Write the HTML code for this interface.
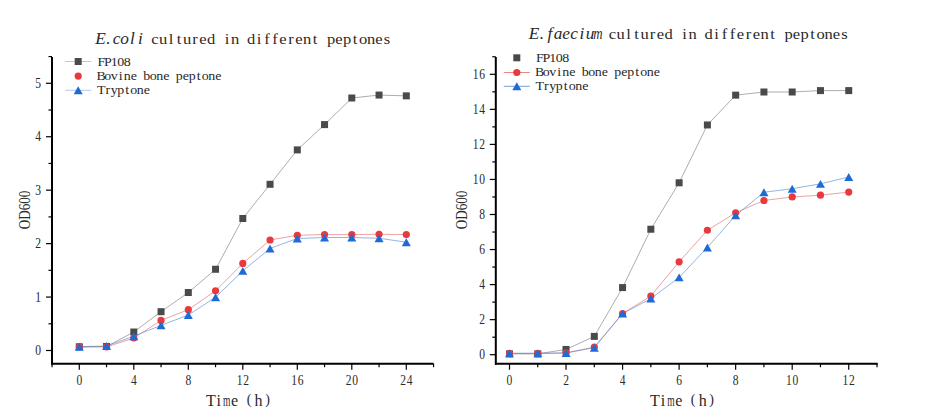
<!DOCTYPE html><html><head><meta charset="utf-8"><style>html,body{margin:0;padding:0;background:#fff;}svg{display:block;}</style></head><body>
<svg width="932" height="420" viewBox="0 0 932 420" font-family='"Liberation Serif", serif'>
<rect width="932" height="420" fill="#fff"/>
<line x1="51.3" y1="363.7" x2="433.6" y2="363.7" stroke="#000" stroke-width="2"/>
<line x1="52.0" y1="57.0" x2="52.0" y2="364.7" stroke="#000" stroke-width="2"/>
<line x1="79.30" y1="363.7" x2="79.30" y2="369.7" stroke="#000" stroke-width="1.2"/>
<text transform="translate(79.30,385.00) scale(0.850,1)" font-size="13.6" text-anchor="middle" fill="#2a2a2a">0</text>
<line x1="133.80" y1="363.7" x2="133.80" y2="369.7" stroke="#000" stroke-width="1.2"/>
<text transform="translate(133.80,385.00) scale(0.850,1)" font-size="13.6" text-anchor="middle" fill="#2a2a2a">4</text>
<line x1="188.30" y1="363.7" x2="188.30" y2="369.7" stroke="#000" stroke-width="1.2"/>
<text transform="translate(188.30,385.00) scale(0.850,1)" font-size="13.6" text-anchor="middle" fill="#2a2a2a">8</text>
<line x1="242.80" y1="363.7" x2="242.80" y2="369.7" stroke="#000" stroke-width="1.2"/>
<text transform="translate(239.55,385.00) scale(0.850,1)" font-size="13.6" text-anchor="middle" fill="#2a2a2a">1</text><text transform="translate(246.05,385.00) scale(0.850,1)" font-size="13.6" text-anchor="middle" fill="#2a2a2a">2</text>
<line x1="297.30" y1="363.7" x2="297.30" y2="369.7" stroke="#000" stroke-width="1.2"/>
<text transform="translate(294.05,385.00) scale(0.850,1)" font-size="13.6" text-anchor="middle" fill="#2a2a2a">1</text><text transform="translate(300.55,385.00) scale(0.850,1)" font-size="13.6" text-anchor="middle" fill="#2a2a2a">6</text>
<line x1="351.80" y1="363.7" x2="351.80" y2="369.7" stroke="#000" stroke-width="1.2"/>
<text transform="translate(348.55,385.00) scale(0.850,1)" font-size="13.6" text-anchor="middle" fill="#2a2a2a">2</text><text transform="translate(355.05,385.00) scale(0.850,1)" font-size="13.6" text-anchor="middle" fill="#2a2a2a">0</text>
<line x1="406.30" y1="363.7" x2="406.30" y2="369.7" stroke="#000" stroke-width="1.2"/>
<text transform="translate(403.05,385.00) scale(0.850,1)" font-size="13.6" text-anchor="middle" fill="#2a2a2a">2</text><text transform="translate(409.55,385.00) scale(0.850,1)" font-size="13.6" text-anchor="middle" fill="#2a2a2a">4</text>
<line x1="52.05" y1="363.7" x2="52.05" y2="367.2" stroke="#000" stroke-width="1.2"/>
<line x1="106.55" y1="363.7" x2="106.55" y2="367.2" stroke="#000" stroke-width="1.2"/>
<line x1="161.05" y1="363.7" x2="161.05" y2="367.2" stroke="#000" stroke-width="1.2"/>
<line x1="215.55" y1="363.7" x2="215.55" y2="367.2" stroke="#000" stroke-width="1.2"/>
<line x1="270.05" y1="363.7" x2="270.05" y2="367.2" stroke="#000" stroke-width="1.2"/>
<line x1="324.55" y1="363.7" x2="324.55" y2="367.2" stroke="#000" stroke-width="1.2"/>
<line x1="379.05" y1="363.7" x2="379.05" y2="367.2" stroke="#000" stroke-width="1.2"/>
<line x1="433.55" y1="363.7" x2="433.55" y2="367.2" stroke="#000" stroke-width="1.2"/>
<line x1="46.0" y1="350.50" x2="52.0" y2="350.50" stroke="#000" stroke-width="1.2"/>
<text transform="translate(38.25,355.00) scale(0.850,1)" font-size="13.6" text-anchor="middle" fill="#2a2a2a">0</text>
<line x1="46.0" y1="297.06" x2="52.0" y2="297.06" stroke="#000" stroke-width="1.2"/>
<text transform="translate(38.25,301.56) scale(0.850,1)" font-size="13.6" text-anchor="middle" fill="#2a2a2a">1</text>
<line x1="46.0" y1="243.62" x2="52.0" y2="243.62" stroke="#000" stroke-width="1.2"/>
<text transform="translate(38.25,248.12) scale(0.850,1)" font-size="13.6" text-anchor="middle" fill="#2a2a2a">2</text>
<line x1="46.0" y1="190.18" x2="52.0" y2="190.18" stroke="#000" stroke-width="1.2"/>
<text transform="translate(38.25,194.68) scale(0.850,1)" font-size="13.6" text-anchor="middle" fill="#2a2a2a">3</text>
<line x1="46.0" y1="136.74" x2="52.0" y2="136.74" stroke="#000" stroke-width="1.2"/>
<text transform="translate(38.25,141.24) scale(0.850,1)" font-size="13.6" text-anchor="middle" fill="#2a2a2a">4</text>
<line x1="46.0" y1="83.30" x2="52.0" y2="83.30" stroke="#000" stroke-width="1.2"/>
<text transform="translate(38.25,87.80) scale(0.850,1)" font-size="13.6" text-anchor="middle" fill="#2a2a2a">5</text>
<line x1="48.5" y1="323.78" x2="52.0" y2="323.78" stroke="#000" stroke-width="1.2"/>
<line x1="48.5" y1="270.34" x2="52.0" y2="270.34" stroke="#000" stroke-width="1.2"/>
<line x1="48.5" y1="216.90" x2="52.0" y2="216.90" stroke="#000" stroke-width="1.2"/>
<line x1="48.5" y1="163.46" x2="52.0" y2="163.46" stroke="#000" stroke-width="1.2"/>
<line x1="48.5" y1="110.02" x2="52.0" y2="110.02" stroke="#000" stroke-width="1.2"/>
<line x1="48.5" y1="56.58" x2="52.0" y2="56.58" stroke="#000" stroke-width="1.2"/>
<polyline points="79.30,346.76 106.55,346.49 133.80,332.01 161.05,311.70 188.30,292.52 215.55,269.27 242.80,218.50 270.05,184.30 297.30,149.89 324.55,124.61 351.80,98.00 379.05,95.06 406.30,95.86" fill="none" stroke="#7a7a7a" stroke-width="0.62"/>
<polyline points="79.30,346.97 106.55,346.97 133.80,338.00 161.05,320.41 188.30,309.67 215.55,290.81 242.80,263.39 270.05,239.99 297.30,235.28 324.55,234.59 351.80,234.59 379.05,234.27 406.30,234.59" fill="none" stroke="#e06a6c" stroke-width="0.62"/>
<polyline points="79.30,346.71 106.55,346.01 133.80,336.18 161.05,325.38 188.30,315.02 215.55,297.27 242.80,270.87 270.05,248.43 297.30,238.49 324.55,237.53 351.80,237.53 379.05,238.28 406.30,242.18" fill="none" stroke="#4f88cf" stroke-width="0.62"/>
<rect x="75.80" y="343.26" width="7" height="7" fill="#4a4a4a"/>
<rect x="103.05" y="342.99" width="7" height="7" fill="#4a4a4a"/>
<rect x="130.30" y="328.51" width="7" height="7" fill="#4a4a4a"/>
<rect x="157.55" y="308.20" width="7" height="7" fill="#4a4a4a"/>
<rect x="184.80" y="289.02" width="7" height="7" fill="#4a4a4a"/>
<rect x="212.05" y="265.77" width="7" height="7" fill="#4a4a4a"/>
<rect x="239.30" y="215.00" width="7" height="7" fill="#4a4a4a"/>
<rect x="266.55" y="180.80" width="7" height="7" fill="#4a4a4a"/>
<rect x="293.80" y="146.39" width="7" height="7" fill="#4a4a4a"/>
<rect x="321.05" y="121.11" width="7" height="7" fill="#4a4a4a"/>
<rect x="348.30" y="94.50" width="7" height="7" fill="#4a4a4a"/>
<rect x="375.55" y="91.56" width="7" height="7" fill="#4a4a4a"/>
<rect x="402.80" y="92.36" width="7" height="7" fill="#4a4a4a"/>
<circle cx="79.30" cy="346.97" r="3.6" fill="#e8393e"/>
<circle cx="106.55" cy="346.97" r="3.6" fill="#e8393e"/>
<circle cx="133.80" cy="338.00" r="3.6" fill="#e8393e"/>
<circle cx="161.05" cy="320.41" r="3.6" fill="#e8393e"/>
<circle cx="188.30" cy="309.67" r="3.6" fill="#e8393e"/>
<circle cx="215.55" cy="290.81" r="3.6" fill="#e8393e"/>
<circle cx="242.80" cy="263.39" r="3.6" fill="#e8393e"/>
<circle cx="270.05" cy="239.99" r="3.6" fill="#e8393e"/>
<circle cx="297.30" cy="235.28" r="3.6" fill="#e8393e"/>
<circle cx="324.55" cy="234.59" r="3.6" fill="#e8393e"/>
<circle cx="351.80" cy="234.59" r="3.6" fill="#e8393e"/>
<circle cx="379.05" cy="234.27" r="3.6" fill="#e8393e"/>
<circle cx="406.30" cy="234.59" r="3.6" fill="#e8393e"/>
<path d="M79.30 342.76 L83.80 350.66 L74.80 350.66Z" fill="#1f6bd6"/>
<path d="M106.55 342.06 L111.05 349.96 L102.05 349.96Z" fill="#1f6bd6"/>
<path d="M133.80 332.23 L138.30 340.13 L129.30 340.13Z" fill="#1f6bd6"/>
<path d="M161.05 321.43 L165.55 329.33 L156.55 329.33Z" fill="#1f6bd6"/>
<path d="M188.30 311.07 L192.80 318.97 L183.80 318.97Z" fill="#1f6bd6"/>
<path d="M215.55 293.32 L220.05 301.22 L211.05 301.22Z" fill="#1f6bd6"/>
<path d="M242.80 266.92 L247.30 274.82 L238.30 274.82Z" fill="#1f6bd6"/>
<path d="M270.05 244.48 L274.55 252.38 L265.55 252.38Z" fill="#1f6bd6"/>
<path d="M297.30 234.54 L301.80 242.44 L292.80 242.44Z" fill="#1f6bd6"/>
<path d="M324.55 233.58 L329.05 241.48 L320.05 241.48Z" fill="#1f6bd6"/>
<path d="M351.80 233.58 L356.30 241.48 L347.30 241.48Z" fill="#1f6bd6"/>
<path d="M379.05 234.33 L383.55 242.23 L374.55 242.23Z" fill="#1f6bd6"/>
<path d="M406.30 238.23 L410.80 246.13 L401.80 246.13Z" fill="#1f6bd6"/>
<text transform="translate(100.50,43.70) scale(1.080,1)" font-size="16" font-style="italic" text-anchor="middle" fill="#2a2a2a">E</text><text transform="translate(108.50,43.70) scale(1.080,1)" font-size="16" font-style="italic" text-anchor="middle" fill="#2a2a2a">.</text><text transform="translate(116.50,43.70) scale(1.080,1)" font-size="16" font-style="italic" text-anchor="middle" fill="#2a2a2a">c</text><text transform="translate(124.50,43.70) scale(1.080,1)" font-size="16" font-style="italic" text-anchor="middle" fill="#2a2a2a">o</text><text transform="translate(132.50,43.70) scale(1.080,1)" font-size="16" font-style="italic" text-anchor="middle" fill="#2a2a2a">l</text><text transform="translate(140.50,43.70) scale(1.080,1)" font-size="16" font-style="italic" text-anchor="middle" fill="#2a2a2a">i</text>
<text transform="translate(155.00,43.70) scale(1.080,1)" font-size="15.3" text-anchor="middle" fill="#2a2a2a">c</text><text transform="translate(163.00,43.70) scale(1.080,1)" font-size="15.3" text-anchor="middle" fill="#2a2a2a">u</text><text transform="translate(171.00,43.70) scale(1.080,1)" font-size="15.3" text-anchor="middle" fill="#2a2a2a">l</text><text transform="translate(179.00,43.70) scale(1.080,1)" font-size="15.3" text-anchor="middle" fill="#2a2a2a">t</text><text transform="translate(187.00,43.70) scale(1.080,1)" font-size="15.3" text-anchor="middle" fill="#2a2a2a">u</text><text transform="translate(195.00,43.70) scale(1.080,1)" font-size="15.3" text-anchor="middle" fill="#2a2a2a">r</text><text transform="translate(203.00,43.70) scale(1.080,1)" font-size="15.3" text-anchor="middle" fill="#2a2a2a">e</text><text transform="translate(211.00,43.70) scale(1.080,1)" font-size="15.3" text-anchor="middle" fill="#2a2a2a">d</text><text transform="translate(227.00,43.70) scale(1.080,1)" font-size="15.3" text-anchor="middle" fill="#2a2a2a">i</text><text transform="translate(235.00,43.70) scale(1.080,1)" font-size="15.3" text-anchor="middle" fill="#2a2a2a">n</text><text transform="translate(251.00,43.70) scale(1.080,1)" font-size="15.3" text-anchor="middle" fill="#2a2a2a">d</text><text transform="translate(259.00,43.70) scale(1.080,1)" font-size="15.3" text-anchor="middle" fill="#2a2a2a">i</text><text transform="translate(267.00,43.70) scale(1.080,1)" font-size="15.3" text-anchor="middle" fill="#2a2a2a">f</text><text transform="translate(275.00,43.70) scale(1.080,1)" font-size="15.3" text-anchor="middle" fill="#2a2a2a">f</text><text transform="translate(283.00,43.70) scale(1.080,1)" font-size="15.3" text-anchor="middle" fill="#2a2a2a">e</text><text transform="translate(291.00,43.70) scale(1.080,1)" font-size="15.3" text-anchor="middle" fill="#2a2a2a">r</text><text transform="translate(299.00,43.70) scale(1.080,1)" font-size="15.3" text-anchor="middle" fill="#2a2a2a">e</text><text transform="translate(307.00,43.70) scale(1.080,1)" font-size="15.3" text-anchor="middle" fill="#2a2a2a">n</text><text transform="translate(315.00,43.70) scale(1.080,1)" font-size="15.3" text-anchor="middle" fill="#2a2a2a">t</text><text transform="translate(331.00,43.70) scale(1.080,1)" font-size="15.3" text-anchor="middle" fill="#2a2a2a">p</text><text transform="translate(339.00,43.70) scale(1.080,1)" font-size="15.3" text-anchor="middle" fill="#2a2a2a">e</text><text transform="translate(347.00,43.70) scale(1.080,1)" font-size="15.3" text-anchor="middle" fill="#2a2a2a">p</text><text transform="translate(355.00,43.70) scale(1.080,1)" font-size="15.3" text-anchor="middle" fill="#2a2a2a">t</text><text transform="translate(363.00,43.70) scale(1.080,1)" font-size="15.3" text-anchor="middle" fill="#2a2a2a">o</text><text transform="translate(371.00,43.70) scale(1.080,1)" font-size="15.3" text-anchor="middle" fill="#2a2a2a">n</text><text transform="translate(379.00,43.70) scale(1.080,1)" font-size="15.3" text-anchor="middle" fill="#2a2a2a">e</text><text transform="translate(387.00,43.70) scale(1.080,1)" font-size="15.3" text-anchor="middle" fill="#2a2a2a">s</text>
<line x1="65.2" y1="61.50" x2="91.2" y2="61.50" stroke="#b8b8b8" stroke-width="0.8"/>
<rect x="74.70" y="58.00" width="7" height="7" fill="#4a4a4a"/>
<text transform="translate(101.25,65.80) scale(1.050,1)" font-size="13.3" text-anchor="middle" fill="#2a2a2a">F</text><text transform="translate(107.75,65.80) scale(1.050,1)" font-size="13.3" text-anchor="middle" fill="#2a2a2a">P</text><text transform="translate(114.25,65.80) scale(1.050,1)" font-size="13.3" text-anchor="middle" fill="#2a2a2a">1</text><text transform="translate(120.75,65.80) scale(1.050,1)" font-size="13.3" text-anchor="middle" fill="#2a2a2a">0</text><text transform="translate(127.25,65.80) scale(1.050,1)" font-size="13.3" text-anchor="middle" fill="#2a2a2a">8</text>
<circle cx="78.20" cy="76.10" r="3.6" fill="#e8393e"/>
<text transform="translate(101.25,80.30) scale(1.050,1)" font-size="13.3" text-anchor="middle" fill="#2a2a2a">B</text><text transform="translate(107.75,80.30) scale(1.050,1)" font-size="13.3" text-anchor="middle" fill="#2a2a2a">o</text><text transform="translate(114.25,80.30) scale(1.050,1)" font-size="13.3" text-anchor="middle" fill="#2a2a2a">v</text><text transform="translate(120.75,80.30) scale(1.050,1)" font-size="13.3" text-anchor="middle" fill="#2a2a2a">i</text><text transform="translate(127.25,80.30) scale(1.050,1)" font-size="13.3" text-anchor="middle" fill="#2a2a2a">n</text><text transform="translate(133.75,80.30) scale(1.050,1)" font-size="13.3" text-anchor="middle" fill="#2a2a2a">e</text><text transform="translate(146.75,80.30) scale(1.050,1)" font-size="13.3" text-anchor="middle" fill="#2a2a2a">b</text><text transform="translate(153.25,80.30) scale(1.050,1)" font-size="13.3" text-anchor="middle" fill="#2a2a2a">o</text><text transform="translate(159.75,80.30) scale(1.050,1)" font-size="13.3" text-anchor="middle" fill="#2a2a2a">n</text><text transform="translate(166.25,80.30) scale(1.050,1)" font-size="13.3" text-anchor="middle" fill="#2a2a2a">e</text><text transform="translate(179.25,80.30) scale(1.050,1)" font-size="13.3" text-anchor="middle" fill="#2a2a2a">p</text><text transform="translate(185.75,80.30) scale(1.050,1)" font-size="13.3" text-anchor="middle" fill="#2a2a2a">e</text><text transform="translate(192.25,80.30) scale(1.050,1)" font-size="13.3" text-anchor="middle" fill="#2a2a2a">p</text><text transform="translate(198.75,80.30) scale(1.050,1)" font-size="13.3" text-anchor="middle" fill="#2a2a2a">t</text><text transform="translate(205.25,80.30) scale(1.050,1)" font-size="13.3" text-anchor="middle" fill="#2a2a2a">o</text><text transform="translate(211.75,80.30) scale(1.050,1)" font-size="13.3" text-anchor="middle" fill="#2a2a2a">n</text><text transform="translate(218.25,80.30) scale(1.050,1)" font-size="13.3" text-anchor="middle" fill="#2a2a2a">e</text>
<line x1="65.2" y1="90.30" x2="91.2" y2="90.30" stroke="#9dbde6" stroke-width="0.8"/>
<path d="M78.20 86.35 L82.70 94.25 L73.70 94.25Z" fill="#1f6bd6"/>
<text transform="translate(101.25,93.70) scale(1.050,1)" font-size="13.3" text-anchor="middle" fill="#2a2a2a">T</text><text transform="translate(107.75,93.70) scale(1.050,1)" font-size="13.3" text-anchor="middle" fill="#2a2a2a">r</text><text transform="translate(114.25,93.70) scale(1.050,1)" font-size="13.3" text-anchor="middle" fill="#2a2a2a">y</text><text transform="translate(120.75,93.70) scale(1.050,1)" font-size="13.3" text-anchor="middle" fill="#2a2a2a">p</text><text transform="translate(127.25,93.70) scale(1.050,1)" font-size="13.3" text-anchor="middle" fill="#2a2a2a">t</text><text transform="translate(133.75,93.70) scale(1.050,1)" font-size="13.3" text-anchor="middle" fill="#2a2a2a">o</text><text transform="translate(140.25,93.70) scale(1.050,1)" font-size="13.3" text-anchor="middle" fill="#2a2a2a">n</text><text transform="translate(146.75,93.70) scale(1.050,1)" font-size="13.3" text-anchor="middle" fill="#2a2a2a">e</text>
<g transform="translate(30.0,210.0) rotate(-90)"><text x="0" y="0" font-size="17" text-anchor="middle" textLength="38.6" lengthAdjust="spacingAndGlyphs" fill="#2a2a2a">OD600</text></g>
<text x="210.80" y="406.0" font-size="16" text-anchor="middle" fill="#2a2a2a">T</text>
<text x="218.80" y="406.0" font-size="16" text-anchor="middle" fill="#2a2a2a">i</text>
<text x="226.80" y="406.0" font-size="16" textLength="7.4" lengthAdjust="spacingAndGlyphs" text-anchor="middle" fill="#2a2a2a">m</text>
<text x="234.60" y="406.0" font-size="16" text-anchor="middle" fill="#2a2a2a">e</text>
<text x="249.00" y="404.2" font-size="14" text-anchor="middle" fill="#2a2a2a">(</text>
<text x="258.60" y="406.0" font-size="16" text-anchor="middle" fill="#2a2a2a">h</text>
<text x="267.60" y="404.2" font-size="14" text-anchor="middle" fill="#2a2a2a">)</text>
<line x1="495.0" y1="363.7" x2="877.7" y2="363.7" stroke="#000" stroke-width="2"/>
<line x1="495.8" y1="57.0" x2="495.8" y2="364.7" stroke="#000" stroke-width="2"/>
<line x1="509.50" y1="363.7" x2="509.50" y2="369.7" stroke="#000" stroke-width="1.2"/>
<text transform="translate(509.50,385.00) scale(0.850,1)" font-size="13.6" text-anchor="middle" fill="#2a2a2a">0</text>
<line x1="566.04" y1="363.7" x2="566.04" y2="369.7" stroke="#000" stroke-width="1.2"/>
<text transform="translate(566.04,385.00) scale(0.850,1)" font-size="13.6" text-anchor="middle" fill="#2a2a2a">2</text>
<line x1="622.58" y1="363.7" x2="622.58" y2="369.7" stroke="#000" stroke-width="1.2"/>
<text transform="translate(622.58,385.00) scale(0.850,1)" font-size="13.6" text-anchor="middle" fill="#2a2a2a">4</text>
<line x1="679.12" y1="363.7" x2="679.12" y2="369.7" stroke="#000" stroke-width="1.2"/>
<text transform="translate(679.12,385.00) scale(0.850,1)" font-size="13.6" text-anchor="middle" fill="#2a2a2a">6</text>
<line x1="735.66" y1="363.7" x2="735.66" y2="369.7" stroke="#000" stroke-width="1.2"/>
<text transform="translate(735.66,385.00) scale(0.850,1)" font-size="13.6" text-anchor="middle" fill="#2a2a2a">8</text>
<line x1="792.20" y1="363.7" x2="792.20" y2="369.7" stroke="#000" stroke-width="1.2"/>
<text transform="translate(788.95,385.00) scale(0.850,1)" font-size="13.6" text-anchor="middle" fill="#2a2a2a">1</text><text transform="translate(795.45,385.00) scale(0.850,1)" font-size="13.6" text-anchor="middle" fill="#2a2a2a">0</text>
<line x1="848.74" y1="363.7" x2="848.74" y2="369.7" stroke="#000" stroke-width="1.2"/>
<text transform="translate(845.49,385.00) scale(0.850,1)" font-size="13.6" text-anchor="middle" fill="#2a2a2a">1</text><text transform="translate(851.99,385.00) scale(0.850,1)" font-size="13.6" text-anchor="middle" fill="#2a2a2a">2</text>
<line x1="537.77" y1="363.7" x2="537.77" y2="367.2" stroke="#000" stroke-width="1.2"/>
<line x1="594.31" y1="363.7" x2="594.31" y2="367.2" stroke="#000" stroke-width="1.2"/>
<line x1="650.85" y1="363.7" x2="650.85" y2="367.2" stroke="#000" stroke-width="1.2"/>
<line x1="707.39" y1="363.7" x2="707.39" y2="367.2" stroke="#000" stroke-width="1.2"/>
<line x1="763.93" y1="363.7" x2="763.93" y2="367.2" stroke="#000" stroke-width="1.2"/>
<line x1="820.47" y1="363.7" x2="820.47" y2="367.2" stroke="#000" stroke-width="1.2"/>
<line x1="877.01" y1="363.7" x2="877.01" y2="367.2" stroke="#000" stroke-width="1.2"/>
<line x1="489.8" y1="354.70" x2="495.8" y2="354.70" stroke="#000" stroke-width="1.2"/>
<text transform="translate(482.05,359.20) scale(0.850,1)" font-size="13.6" text-anchor="middle" fill="#2a2a2a">0</text>
<line x1="489.8" y1="319.65" x2="495.8" y2="319.65" stroke="#000" stroke-width="1.2"/>
<text transform="translate(482.05,324.15) scale(0.850,1)" font-size="13.6" text-anchor="middle" fill="#2a2a2a">2</text>
<line x1="489.8" y1="284.60" x2="495.8" y2="284.60" stroke="#000" stroke-width="1.2"/>
<text transform="translate(482.05,289.10) scale(0.850,1)" font-size="13.6" text-anchor="middle" fill="#2a2a2a">4</text>
<line x1="489.8" y1="249.55" x2="495.8" y2="249.55" stroke="#000" stroke-width="1.2"/>
<text transform="translate(482.05,254.05) scale(0.850,1)" font-size="13.6" text-anchor="middle" fill="#2a2a2a">6</text>
<line x1="489.8" y1="214.50" x2="495.8" y2="214.50" stroke="#000" stroke-width="1.2"/>
<text transform="translate(482.05,219.00) scale(0.850,1)" font-size="13.6" text-anchor="middle" fill="#2a2a2a">8</text>
<line x1="489.8" y1="179.45" x2="495.8" y2="179.45" stroke="#000" stroke-width="1.2"/>
<text transform="translate(475.55,183.95) scale(0.850,1)" font-size="13.6" text-anchor="middle" fill="#2a2a2a">1</text><text transform="translate(482.05,183.95) scale(0.850,1)" font-size="13.6" text-anchor="middle" fill="#2a2a2a">0</text>
<line x1="489.8" y1="144.40" x2="495.8" y2="144.40" stroke="#000" stroke-width="1.2"/>
<text transform="translate(475.55,148.90) scale(0.850,1)" font-size="13.6" text-anchor="middle" fill="#2a2a2a">1</text><text transform="translate(482.05,148.90) scale(0.850,1)" font-size="13.6" text-anchor="middle" fill="#2a2a2a">2</text>
<line x1="489.8" y1="109.35" x2="495.8" y2="109.35" stroke="#000" stroke-width="1.2"/>
<text transform="translate(475.55,113.85) scale(0.850,1)" font-size="13.6" text-anchor="middle" fill="#2a2a2a">1</text><text transform="translate(482.05,113.85) scale(0.850,1)" font-size="13.6" text-anchor="middle" fill="#2a2a2a">4</text>
<line x1="489.8" y1="74.30" x2="495.8" y2="74.30" stroke="#000" stroke-width="1.2"/>
<text transform="translate(475.55,78.80) scale(0.850,1)" font-size="13.6" text-anchor="middle" fill="#2a2a2a">1</text><text transform="translate(482.05,78.80) scale(0.850,1)" font-size="13.6" text-anchor="middle" fill="#2a2a2a">6</text>
<line x1="492.3" y1="337.18" x2="495.8" y2="337.18" stroke="#000" stroke-width="1.2"/>
<line x1="492.3" y1="302.12" x2="495.8" y2="302.12" stroke="#000" stroke-width="1.2"/>
<line x1="492.3" y1="267.07" x2="495.8" y2="267.07" stroke="#000" stroke-width="1.2"/>
<line x1="492.3" y1="232.03" x2="495.8" y2="232.03" stroke="#000" stroke-width="1.2"/>
<line x1="492.3" y1="196.97" x2="495.8" y2="196.97" stroke="#000" stroke-width="1.2"/>
<line x1="492.3" y1="161.93" x2="495.8" y2="161.93" stroke="#000" stroke-width="1.2"/>
<line x1="492.3" y1="126.88" x2="495.8" y2="126.88" stroke="#000" stroke-width="1.2"/>
<line x1="492.3" y1="91.82" x2="495.8" y2="91.82" stroke="#000" stroke-width="1.2"/>
<line x1="492.3" y1="56.78" x2="495.8" y2="56.78" stroke="#000" stroke-width="1.2"/>
<polyline points="509.50,353.82 537.77,353.82 566.04,349.44 594.31,336.39 622.58,287.58 650.85,229.22 679.12,182.78 707.39,124.95 735.66,95.15 763.93,92.00 792.20,92.00 820.47,90.60 848.74,90.60" fill="none" stroke="#7a7a7a" stroke-width="0.62"/>
<polyline points="509.50,353.65 537.77,353.65 566.04,352.95 594.31,346.99 622.58,313.52 650.85,295.99 679.12,261.82 707.39,230.27 735.66,212.75 763.93,200.48 792.20,196.97 820.47,195.22 848.74,192.07" fill="none" stroke="#e06a6c" stroke-width="0.62"/>
<polyline points="509.50,353.19 537.77,353.19 566.04,352.95 594.31,347.69 622.58,313.60 650.85,298.62 679.12,277.41 707.39,247.45 735.66,215.38 763.93,192.24 792.20,188.74 820.47,183.83 848.74,177.00" fill="none" stroke="#4f88cf" stroke-width="0.62"/>
<rect x="506.00" y="350.32" width="7" height="7" fill="#4a4a4a"/>
<rect x="534.27" y="350.32" width="7" height="7" fill="#4a4a4a"/>
<rect x="562.54" y="345.94" width="7" height="7" fill="#4a4a4a"/>
<rect x="590.81" y="332.89" width="7" height="7" fill="#4a4a4a"/>
<rect x="619.08" y="284.08" width="7" height="7" fill="#4a4a4a"/>
<rect x="647.35" y="225.72" width="7" height="7" fill="#4a4a4a"/>
<rect x="675.62" y="179.28" width="7" height="7" fill="#4a4a4a"/>
<rect x="703.89" y="121.45" width="7" height="7" fill="#4a4a4a"/>
<rect x="732.16" y="91.65" width="7" height="7" fill="#4a4a4a"/>
<rect x="760.43" y="88.50" width="7" height="7" fill="#4a4a4a"/>
<rect x="788.70" y="88.50" width="7" height="7" fill="#4a4a4a"/>
<rect x="816.97" y="87.10" width="7" height="7" fill="#4a4a4a"/>
<rect x="845.24" y="87.10" width="7" height="7" fill="#4a4a4a"/>
<circle cx="509.50" cy="353.65" r="3.6" fill="#e8393e"/>
<circle cx="537.77" cy="353.65" r="3.6" fill="#e8393e"/>
<circle cx="566.04" cy="352.95" r="3.6" fill="#e8393e"/>
<circle cx="594.31" cy="346.99" r="3.6" fill="#e8393e"/>
<circle cx="622.58" cy="313.52" r="3.6" fill="#e8393e"/>
<circle cx="650.85" cy="295.99" r="3.6" fill="#e8393e"/>
<circle cx="679.12" cy="261.82" r="3.6" fill="#e8393e"/>
<circle cx="707.39" cy="230.27" r="3.6" fill="#e8393e"/>
<circle cx="735.66" cy="212.75" r="3.6" fill="#e8393e"/>
<circle cx="763.93" cy="200.48" r="3.6" fill="#e8393e"/>
<circle cx="792.20" cy="196.97" r="3.6" fill="#e8393e"/>
<circle cx="820.47" cy="195.22" r="3.6" fill="#e8393e"/>
<circle cx="848.74" cy="192.07" r="3.6" fill="#e8393e"/>
<path d="M509.50 349.24 L514.00 357.14 L505.00 357.14Z" fill="#1f6bd6"/>
<path d="M537.77 349.24 L542.27 357.14 L533.27 357.14Z" fill="#1f6bd6"/>
<path d="M566.04 349.00 L570.54 356.90 L561.54 356.90Z" fill="#1f6bd6"/>
<path d="M594.31 343.74 L598.81 351.64 L589.81 351.64Z" fill="#1f6bd6"/>
<path d="M622.58 309.65 L627.08 317.55 L618.08 317.55Z" fill="#1f6bd6"/>
<path d="M650.85 294.67 L655.35 302.57 L646.35 302.57Z" fill="#1f6bd6"/>
<path d="M679.12 273.46 L683.62 281.36 L674.62 281.36Z" fill="#1f6bd6"/>
<path d="M707.39 243.50 L711.89 251.40 L702.89 251.40Z" fill="#1f6bd6"/>
<path d="M735.66 211.43 L740.16 219.33 L731.16 219.33Z" fill="#1f6bd6"/>
<path d="M763.93 188.29 L768.43 196.19 L759.43 196.19Z" fill="#1f6bd6"/>
<path d="M792.20 184.79 L796.70 192.69 L787.70 192.69Z" fill="#1f6bd6"/>
<path d="M820.47 179.88 L824.97 187.78 L815.97 187.78Z" fill="#1f6bd6"/>
<path d="M848.74 173.05 L853.24 180.95 L844.24 180.95Z" fill="#1f6bd6"/>
<text transform="translate(534.00,38.80) scale(1.080,1)" font-size="16" font-style="italic" text-anchor="middle" fill="#2a2a2a">E</text><text transform="translate(542.00,38.80) scale(1.080,1)" font-size="16" font-style="italic" text-anchor="middle" fill="#2a2a2a">.</text><text transform="translate(550.00,38.80) scale(1.080,1)" font-size="16" font-style="italic" text-anchor="middle" fill="#2a2a2a">f</text><text transform="translate(558.00,38.80) scale(1.080,1)" font-size="16" font-style="italic" text-anchor="middle" fill="#2a2a2a">a</text><text transform="translate(566.00,38.80) scale(1.080,1)" font-size="16" font-style="italic" text-anchor="middle" fill="#2a2a2a">e</text><text transform="translate(574.00,38.80) scale(1.080,1)" font-size="16" font-style="italic" text-anchor="middle" fill="#2a2a2a">c</text><text transform="translate(582.00,38.80) scale(1.080,1)" font-size="16" font-style="italic" text-anchor="middle" fill="#2a2a2a">i</text><text transform="translate(590.00,38.80) scale(1.080,1)" font-size="16" font-style="italic" text-anchor="middle" fill="#2a2a2a">u</text><text transform="translate(598.00,38.80) scale(0.810,1)" font-size="16" font-style="italic" text-anchor="middle" fill="#2a2a2a">m</text>
<text transform="translate(612.50,38.80) scale(1.080,1)" font-size="15.3" text-anchor="middle" fill="#2a2a2a">c</text><text transform="translate(620.50,38.80) scale(1.080,1)" font-size="15.3" text-anchor="middle" fill="#2a2a2a">u</text><text transform="translate(628.50,38.80) scale(1.080,1)" font-size="15.3" text-anchor="middle" fill="#2a2a2a">l</text><text transform="translate(636.50,38.80) scale(1.080,1)" font-size="15.3" text-anchor="middle" fill="#2a2a2a">t</text><text transform="translate(644.50,38.80) scale(1.080,1)" font-size="15.3" text-anchor="middle" fill="#2a2a2a">u</text><text transform="translate(652.50,38.80) scale(1.080,1)" font-size="15.3" text-anchor="middle" fill="#2a2a2a">r</text><text transform="translate(660.50,38.80) scale(1.080,1)" font-size="15.3" text-anchor="middle" fill="#2a2a2a">e</text><text transform="translate(668.50,38.80) scale(1.080,1)" font-size="15.3" text-anchor="middle" fill="#2a2a2a">d</text><text transform="translate(684.50,38.80) scale(1.080,1)" font-size="15.3" text-anchor="middle" fill="#2a2a2a">i</text><text transform="translate(692.50,38.80) scale(1.080,1)" font-size="15.3" text-anchor="middle" fill="#2a2a2a">n</text><text transform="translate(708.50,38.80) scale(1.080,1)" font-size="15.3" text-anchor="middle" fill="#2a2a2a">d</text><text transform="translate(716.50,38.80) scale(1.080,1)" font-size="15.3" text-anchor="middle" fill="#2a2a2a">i</text><text transform="translate(724.50,38.80) scale(1.080,1)" font-size="15.3" text-anchor="middle" fill="#2a2a2a">f</text><text transform="translate(732.50,38.80) scale(1.080,1)" font-size="15.3" text-anchor="middle" fill="#2a2a2a">f</text><text transform="translate(740.50,38.80) scale(1.080,1)" font-size="15.3" text-anchor="middle" fill="#2a2a2a">e</text><text transform="translate(748.50,38.80) scale(1.080,1)" font-size="15.3" text-anchor="middle" fill="#2a2a2a">r</text><text transform="translate(756.50,38.80) scale(1.080,1)" font-size="15.3" text-anchor="middle" fill="#2a2a2a">e</text><text transform="translate(764.50,38.80) scale(1.080,1)" font-size="15.3" text-anchor="middle" fill="#2a2a2a">n</text><text transform="translate(772.50,38.80) scale(1.080,1)" font-size="15.3" text-anchor="middle" fill="#2a2a2a">t</text><text transform="translate(788.50,38.80) scale(1.080,1)" font-size="15.3" text-anchor="middle" fill="#2a2a2a">p</text><text transform="translate(796.50,38.80) scale(1.080,1)" font-size="15.3" text-anchor="middle" fill="#2a2a2a">e</text><text transform="translate(804.50,38.80) scale(1.080,1)" font-size="15.3" text-anchor="middle" fill="#2a2a2a">p</text><text transform="translate(812.50,38.80) scale(1.080,1)" font-size="15.3" text-anchor="middle" fill="#2a2a2a">t</text><text transform="translate(820.50,38.80) scale(1.080,1)" font-size="15.3" text-anchor="middle" fill="#2a2a2a">o</text><text transform="translate(828.50,38.80) scale(1.080,1)" font-size="15.3" text-anchor="middle" fill="#2a2a2a">n</text><text transform="translate(836.50,38.80) scale(1.080,1)" font-size="15.3" text-anchor="middle" fill="#2a2a2a">e</text><text transform="translate(844.50,38.80) scale(1.080,1)" font-size="15.3" text-anchor="middle" fill="#2a2a2a">s</text>
<rect x="513.30" y="54.30" width="7" height="7" fill="#4a4a4a"/>
<text transform="translate(539.75,62.30) scale(1.050,1)" font-size="13.3" text-anchor="middle" fill="#2a2a2a">F</text><text transform="translate(546.25,62.30) scale(1.050,1)" font-size="13.3" text-anchor="middle" fill="#2a2a2a">P</text><text transform="translate(552.75,62.30) scale(1.050,1)" font-size="13.3" text-anchor="middle" fill="#2a2a2a">1</text><text transform="translate(559.25,62.30) scale(1.050,1)" font-size="13.3" text-anchor="middle" fill="#2a2a2a">0</text><text transform="translate(565.75,62.30) scale(1.050,1)" font-size="13.3" text-anchor="middle" fill="#2a2a2a">8</text>
<line x1="503.79999999999995" y1="72.50" x2="529.8" y2="72.50" stroke="#e06a6c" stroke-width="0.8"/>
<circle cx="516.80" cy="72.50" r="3.6" fill="#e8393e"/>
<text transform="translate(539.75,76.40) scale(1.050,1)" font-size="13.3" text-anchor="middle" fill="#2a2a2a">B</text><text transform="translate(546.25,76.40) scale(1.050,1)" font-size="13.3" text-anchor="middle" fill="#2a2a2a">o</text><text transform="translate(552.75,76.40) scale(1.050,1)" font-size="13.3" text-anchor="middle" fill="#2a2a2a">v</text><text transform="translate(559.25,76.40) scale(1.050,1)" font-size="13.3" text-anchor="middle" fill="#2a2a2a">i</text><text transform="translate(565.75,76.40) scale(1.050,1)" font-size="13.3" text-anchor="middle" fill="#2a2a2a">n</text><text transform="translate(572.25,76.40) scale(1.050,1)" font-size="13.3" text-anchor="middle" fill="#2a2a2a">e</text><text transform="translate(585.25,76.40) scale(1.050,1)" font-size="13.3" text-anchor="middle" fill="#2a2a2a">b</text><text transform="translate(591.75,76.40) scale(1.050,1)" font-size="13.3" text-anchor="middle" fill="#2a2a2a">o</text><text transform="translate(598.25,76.40) scale(1.050,1)" font-size="13.3" text-anchor="middle" fill="#2a2a2a">n</text><text transform="translate(604.75,76.40) scale(1.050,1)" font-size="13.3" text-anchor="middle" fill="#2a2a2a">e</text><text transform="translate(617.75,76.40) scale(1.050,1)" font-size="13.3" text-anchor="middle" fill="#2a2a2a">p</text><text transform="translate(624.25,76.40) scale(1.050,1)" font-size="13.3" text-anchor="middle" fill="#2a2a2a">e</text><text transform="translate(630.75,76.40) scale(1.050,1)" font-size="13.3" text-anchor="middle" fill="#2a2a2a">p</text><text transform="translate(637.25,76.40) scale(1.050,1)" font-size="13.3" text-anchor="middle" fill="#2a2a2a">t</text><text transform="translate(643.75,76.40) scale(1.050,1)" font-size="13.3" text-anchor="middle" fill="#2a2a2a">o</text><text transform="translate(650.25,76.40) scale(1.050,1)" font-size="13.3" text-anchor="middle" fill="#2a2a2a">n</text><text transform="translate(656.75,76.40) scale(1.050,1)" font-size="13.3" text-anchor="middle" fill="#2a2a2a">e</text>
<line x1="503.79999999999995" y1="86.30" x2="529.8" y2="86.30" stroke="#4f88cf" stroke-width="0.8"/>
<path d="M516.80 82.35 L521.30 90.25 L512.30 90.25Z" fill="#1f6bd6"/>
<text transform="translate(539.75,90.10) scale(1.050,1)" font-size="13.3" text-anchor="middle" fill="#2a2a2a">T</text><text transform="translate(546.25,90.10) scale(1.050,1)" font-size="13.3" text-anchor="middle" fill="#2a2a2a">r</text><text transform="translate(552.75,90.10) scale(1.050,1)" font-size="13.3" text-anchor="middle" fill="#2a2a2a">y</text><text transform="translate(559.25,90.10) scale(1.050,1)" font-size="13.3" text-anchor="middle" fill="#2a2a2a">p</text><text transform="translate(565.75,90.10) scale(1.050,1)" font-size="13.3" text-anchor="middle" fill="#2a2a2a">t</text><text transform="translate(572.25,90.10) scale(1.050,1)" font-size="13.3" text-anchor="middle" fill="#2a2a2a">o</text><text transform="translate(578.75,90.10) scale(1.050,1)" font-size="13.3" text-anchor="middle" fill="#2a2a2a">n</text><text transform="translate(585.25,90.10) scale(1.050,1)" font-size="13.3" text-anchor="middle" fill="#2a2a2a">e</text>
<g transform="translate(467.0,210.0) rotate(-90)"><text x="0" y="0" font-size="17" text-anchor="middle" textLength="38.6" lengthAdjust="spacingAndGlyphs" fill="#2a2a2a">OD600</text></g>
<text x="654.90" y="406.0" font-size="16" text-anchor="middle" fill="#2a2a2a">T</text>
<text x="662.90" y="406.0" font-size="16" text-anchor="middle" fill="#2a2a2a">i</text>
<text x="670.90" y="406.0" font-size="16" textLength="7.4" lengthAdjust="spacingAndGlyphs" text-anchor="middle" fill="#2a2a2a">m</text>
<text x="678.70" y="406.0" font-size="16" text-anchor="middle" fill="#2a2a2a">e</text>
<text x="693.10" y="404.2" font-size="14" text-anchor="middle" fill="#2a2a2a">(</text>
<text x="702.70" y="406.0" font-size="16" text-anchor="middle" fill="#2a2a2a">h</text>
<text x="711.70" y="404.2" font-size="14" text-anchor="middle" fill="#2a2a2a">)</text>
</svg></body></html>
